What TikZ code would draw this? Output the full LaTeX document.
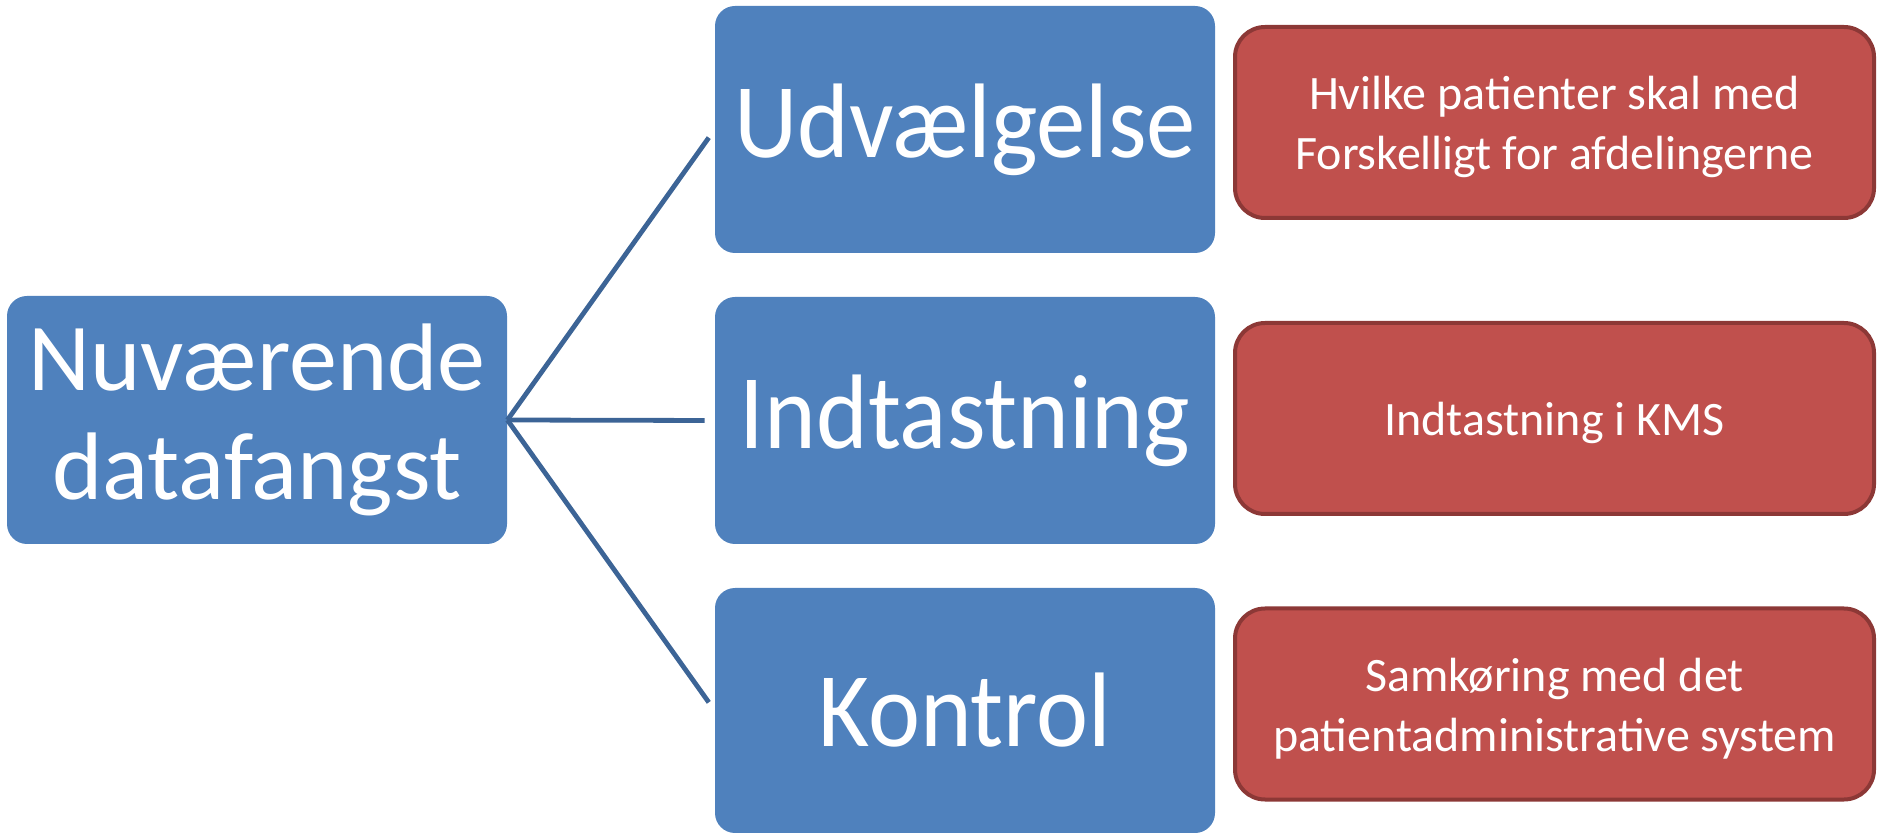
\documentclass[tikz,border=0pt]{standalone}
\usepackage{fontspec}
\setmainfont{Carlito}
\newfontfamily\narrowfont[FakeStretch=0.93]{Carlito}
\definecolor{bluefill}{HTML}{4F81BD}
\definecolor{redfill}{HTML}{C0504D}
\definecolor{redborder}{HTML}{8C3836}
\definecolor{linkcol}{HTML}{3C6496}
\newcommand{\redlines}[1]{\raisebox{-2.75pt}[\height][\depth]{\begin{tabular}{@{}c@{}}#1\end{tabular}}}
\begin{document}
\begin{tikzpicture}[x=0.5pt,y=-0.5pt,
  bluebox/.style={fill=bluefill, rounded corners=10pt, text=white, align=center,
    minimum width=250pt, inner sep=0pt},
  midtext/.style={font=\narrowfont\fontsize{53pt}{60pt}\selectfont},
  redbox/.style={fill=redfill, draw=redborder, line width=2pt, rounded corners=15pt,
    text=white, minimum width=319.5pt, minimum height=95.5pt, inner sep=0pt,
    font=\fontsize{24pt}{30pt}\selectfont},
  link/.style={draw=linkcol, line width=2.4pt, shorten >=5pt}]
\useasboundingbox (0,0) rectangle (1879,833);
\node[bluebox, minimum height=124pt, font=\fontsize{48pt}{54.5pt}\selectfont] (root) at (257,420) {Nuværende\\datafangst};
\node[bluebox, minimum height=123.5pt, midtext] (udv) at (965,129.5) {Udvælgelse};
\node[bluebox, minimum height=123.5pt, midtext] (ind) at (965,420.5) {Indtastning};
\node[bluebox, minimum height=122.5pt, midtext] (kon) at (965,710.5) {Kontrol};
\node[redbox] (r1) at (1554.5,122.5) {\redlines{Hvilke patienter skal med\\Forskelligt for afdelingerne}};
\node[redbox] (r2) at (1554.5,418.5) {\redlines{Indtastning i KMS}};
\node[redbox] (r3) at (1554.5,704) {\redlines{Samkøring med det\\patientadministrative system}};
\draw[link] (root.east) -- (udv.west);
\draw[link] (root.east) -- (ind.west);
\draw[link] (root.east) -- (kon.west);
\end{tikzpicture}
\end{document}
